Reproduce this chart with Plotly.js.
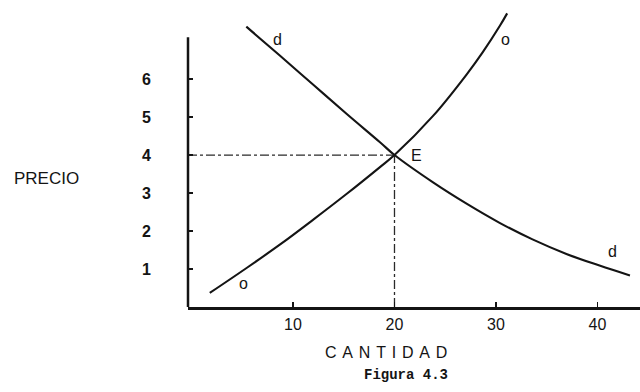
<!DOCTYPE html>
<html>
<head>
<meta charset="utf-8">
<script src="https://cdn.plot.ly/plotly-3.0.1.min.js"></script>
<style>
  html, body { margin: 0; padding: 0; background: #fff; }
  #chart { width: 640px; height: 392px; }
</style>
</head>
<body>
<div id="chart"></div>
<script>
// Oferta (o)
const supplyQty = [1.8, 5.5, 8.7, 12.0, 15.3, 18.6, 20, 23.8, 27.1, 28.7, 30.4, 31.1];
const supplyPrice = [0.37, 1.04, 1.64, 2.3, 2.98, 3.69, 4.0, 5.03, 6.12, 6.71, 7.41, 7.73];

// Demanda (d)
const demandQty = [5.4, 8.7, 12.0, 15.3, 18.6, 20, 23.8, 27.1, 30.4, 33.6, 37.0, 40.2, 43.2];
const demandPrice = [7.38, 6.62, 5.85, 5.08, 4.33, 4.0, 3.28, 2.72, 2.21, 1.78, 1.39, 1.09, 0.83];

// Equilibrium point E
const eqQty = 20;
const eqPrice = 4;

const xTicks = [10, 20, 30, 40];
const yTicks = [1, 2, 3, 4, 5, 6];

const xRange = [-0.345, 44.19];
const yRange = [0, 7.95];
const yAxisTop = 7.1;

const ink = "#141414";
const labelFont = { family: "Liberation Sans, Arial, sans-serif", size: 16, color: ink };
const gap = "\u00a0\u200a";

const supplyTrace = {
  x: supplyQty,
  y: supplyPrice,
  type: "scatter",
  mode: "lines",
  line: { color: ink, width: 2.1, shape: "spline", smoothing: 1 },
  hoverinfo: "skip",
};

const demandTrace = {
  x: demandQty,
  y: demandPrice,
  type: "scatter",
  mode: "lines",
  line: { color: ink, width: 2.1, shape: "spline", smoothing: 1 },
  hoverinfo: "skip",
};

// dashed guides from E to the axes
const priceGuide = {
  x: [xRange[0], eqQty],
  y: [eqPrice, eqPrice],
  type: "scatter",
  mode: "lines",
  line: { color: "#2a2a2a", width: 1.3, dash: "dashdot" },
  hoverinfo: "skip",
};

const qtyGuide = {
  x: [eqQty, eqQty],
  y: [0, eqPrice],
  type: "scatter",
  mode: "lines",
  line: { color: "#2a2a2a", width: 1.3, dash: "dashdot" },
  hoverinfo: "skip",
};

const layout = {
  width: 640,
  height: 392,
  margin: { l: 188, r: 0, t: 5, b: 85 },
  paper_bgcolor: "#fff",
  plot_bgcolor: "#fff",
  showlegend: false,
  xaxis: {
    range: xRange,
    tickvals: xTicks,
    ticks: "inside",
    ticklen: 5,
    tickwidth: 1.5,
    tickcolor: ink,
    showline: true,
    linewidth: 2.5,
    linecolor: ink,
    showgrid: false,
    zeroline: false,
    ticklabelstandoff: 1,
    tickfont: { family: "Liberation Sans, Arial, sans-serif", size: 16, color: ink },
  },
  yaxis: {
    range: yRange,
    tickvals: yTicks,
    ticks: "inside",
    ticklen: 5,
    tickwidth: 1.5,
    tickcolor: ink,
    showline: false,
    showgrid: false,
    zeroline: false,
    ticklabelstandoff: 36,
    tickfont: { family: "Liberation Sans, Arial, sans-serif", size: 16, weight: "bold", color: ink },
  },
  shapes: [
    {
      type: "line",
      xref: "paper",
      yref: "y",
      x0: 0,
      x1: 0,
      y0: 0,
      y1: yAxisTop,
      line: { color: ink, width: 2.5 },
    },
  ],
  annotations: [
    { x: 8.5, y: 7.03, text: "d", showarrow: false, font: labelFont },
    { x: 30.9, y: 7.03, text: "o", showarrow: false, font: labelFont },
    { x: 21.4, y: 4.0, text: "E", showarrow: false, xanchor: "left", font: labelFont },
    { x: 41.5, y: 1.45, text: "d", showarrow: false, font: labelFont },
    { x: 5.1, y: 0.63, text: "o", showarrow: false, font: labelFont },
    {
      xref: "paper",
      yref: "paper",
      x: -0.312,
      y: 0.427,
      xanchor: "center",
      yanchor: "middle",
      text: "PRECIO",
      showarrow: false,
      font: { family: "Liberation Sans, Arial, sans-serif", size: 17, color: ink },
    },
    {
      xref: "paper",
      yref: "paper",
      x: 0.438,
      y: -0.152,
      xanchor: "center",
      yanchor: "middle",
      text: ["C", "A", "N", "T", "I", "D", "A", "D"].join(gap),
      showarrow: false,
      font: { family: "Liberation Sans, Arial, sans-serif", size: 16, color: ink },
    },
    {
      xref: "paper",
      yref: "paper",
      x: 0.482,
      y: -0.225,
      xanchor: "center",
      yanchor: "middle",
      text: "Figura 4.3",
      showarrow: false,
      font: { family: "Liberation Mono, Courier New, monospace", size: 14, weight: "bold", color: ink },
    },
  ],
};

Plotly.newPlot("chart", [priceGuide, qtyGuide, supplyTrace, demandTrace], layout, {
  staticPlot: true,
  displayModeBar: false,
});
</script>
</body>
</html>
